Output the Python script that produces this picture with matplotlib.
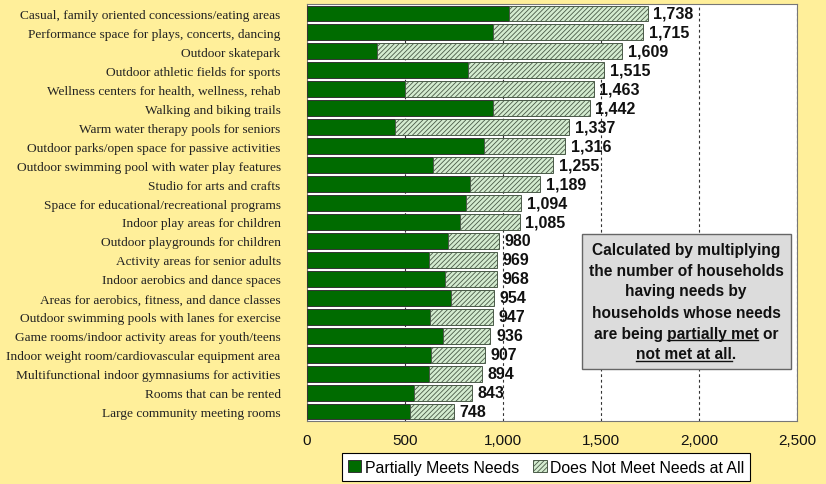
import matplotlib
matplotlib.use("Agg")
import matplotlib.pyplot as plt
from matplotlib.patches import Rectangle, Patch
from matplotlib.lines import Line2D
from matplotlib.ticker import FuncFormatter

# facility types, top to bottom
facilities = [
    "Casual, family oriented concessions/eating areas",
    "Performance space for plays, concerts, dancing",
    "Outdoor skatepark",
    "Outdoor athletic fields for sports",
    "Wellness centers for health, wellness, rehab",
    "Walking and biking trails",
    "Warm water therapy pools for seniors",
    "Outdoor parks/open space for passive activities",
    "Outdoor swimming pool with water play features",
    "Studio for arts and crafts",
    "Space for educational/recreational programs",
    "Indoor play areas for children",
    "Outdoor playgrounds for children",
    "Activity areas for senior adults",
    "Indoor aerobics and dance spaces",
    "Areas for aerobics, fitness, and dance classes",
    "Outdoor swimming pools with lanes for exercise",
    "Game rooms/indoor activity areas for youth/teens",
    "Indoor weight room/cardiovascular equipment area",
    "Multifunctional indoor gymnasiums for activities",
    "Rooms that can be rented",
    "Large community meeting rooms",
]
partially = [1033, 947, 358, 821, 499, 947, 451, 904, 644, 832, 813,
             781, 718, 622, 703, 735, 630, 693, 635, 622, 548, 527]
not_met = [705, 768, 1251, 694, 964, 495, 886, 412, 611, 357, 281,
           304, 262, 347, 265, 219, 317, 243, 272, 272, 295, 221]
xticks = [0, 500, 1000, 1500, 2000, 2500]

note_lines = ["Calculated by multiplying", "the number of households",
              "having needs by", "households whose needs",
              "are being partially met or", "not met at all."]
# (line index, text before underline, underlined text)
underlines = [(4, "are being ", "partially met"), (5, "", "not met at all")]

plt.rcParams["hatch.linewidth"] = 0.6
sans = "Liberation Sans"
serif = "Liberation Serif"
note_size = 11.2

fig = plt.figure(figsize=(8.26, 4.85), dpi=100, facecolor="#ffef9a")
ax = fig.add_axes([0.3717, 0.1299, 0.5932, 0.8598])
ax.set_facecolor("white")

ypos = list(range(len(facilities)))
totals = [p + n for p, n in zip(partially, not_met)]

ax.barh(ypos, partially, height=0.84, color="#006b00", edgecolor="#333333",
        linewidth=0.7, zorder=3, label="Partially Meets Needs")
ax.barh(ypos, not_met, left=partially, height=0.84, color="#d4ecd0",
        edgecolor="#4a5a48", hatch="///////", linewidth=0.7, zorder=3,
        label="Does Not Meet Needs at All")

for y, t in zip(ypos, totals):
    ax.annotate(f"{t:,}", xy=(t, y), xytext=(4, 0), textcoords="offset points",
                ha="left", va="center", fontsize=11.5, fontweight="bold",
                family=sans, color="#111111", zorder=4)

ax.set_xlim(0, 2500)
ax.set_ylim(len(facilities) - 0.5, -0.5)
ax.set_xticks(xticks)
ax.xaxis.set_major_formatter(FuncFormatter(lambda v, p: f"{int(v):,}"))
ax.set_yticks(ypos)
ax.set_yticklabels(facilities, family=serif, fontsize=9.6, color="#222222")
ax.tick_params(axis="y", length=0, pad=19)
ax.tick_params(axis="x", length=0, pad=9, labelsize=11, labelcolor="#111111")
for lab in ax.get_xticklabels():
    lab.set_family(sans)
ax.grid(axis="x", linestyle=(0, (2.5, 2.5)), color="#333333", linewidth=0.8, zorder=1)
for s in ax.spines.values():
    s.set_color("#777777")
    s.set_linewidth(0.8)

handles = [Patch(facecolor="#006b00", edgecolor="#333333", linewidth=0.7),
           Patch(facecolor="#d4ecd0", edgecolor="#4a5a48", hatch="///////", linewidth=0.7)]
leg = fig.legend(handles, ["Partially Meets Needs", "Does Not Meet Needs at All"],
                 loc="center", bbox_to_anchor=(0.661, 0.035), ncol=2, fancybox=False,
                 framealpha=1, edgecolor="black", handlelength=0.85, handleheight=0.85,
                 handletextpad=0.2, columnspacing=0.9, borderpad=0.4,
                 prop={"family": sans, "size": 11.4})
leg.get_frame().set_linewidth(0.8)

# note box
fig.patches.append(Rectangle((0.7046, 0.2371), 0.253, 0.2784, transform=fig.transFigure,
                             facecolor="#dcdcdc", edgecolor="#666666", linewidth=1.0,
                             zorder=5))
cx = 0.8305
line_y = [251, 271.5, 292, 313, 334, 355]
texts = []
for s, py in zip(note_lines, line_y):
    texts.append(fig.text(cx, 1 - py / 485, s, ha="center", va="center", fontsize=note_size,
                          fontweight="bold", family=sans, color="#111111", zorder=6))

fig.canvas.draw()
r = fig.canvas.get_renderer()
W, H = fig.bbox.width, fig.bbox.height


def width_px(s):
    t = fig.text(0, 0, s, fontsize=note_size, fontweight="bold", family=sans)
    w = t.get_window_extent(r).width if s else 0
    t.remove()
    return w


for idx, pre, seg in underlines:
    bb = texts[idx].get_window_extent(r)
    x0 = bb.x0 + width_px(pre)
    x1 = x0 + width_px(seg)
    yy = bb.y0 + 1
    fig.lines.append(Line2D([x0 / W, x1 / W], [yy / H, yy / H], transform=fig.transFigure,
                            color="#111111", linewidth=1.0, zorder=6))

fig.savefig("out.png", dpi=100, facecolor=fig.get_facecolor())
